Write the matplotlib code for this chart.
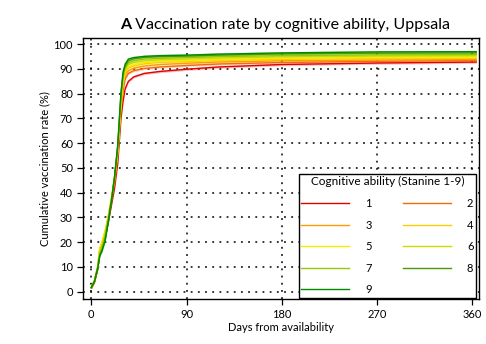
import matplotlib
matplotlib.use("Agg")
import matplotlib.pyplot as plt
from matplotlib.lines import Line2D
import numpy as np

plt.rcParams['font.family'] = ['Lato', 'DejaVu Sans']

days = [0, 3, 6, 8, 10, 13, 16, 19, 22, 25, 28, 30, 32, 35, 40, 50, 65, 90, 120, 180, 270, 364]

s1 = [1.5, 4.0, 9.0, 15.5, 17.5, 22.0, 28.0, 35.0, 42.0, 52.0, 70.0, 77.0, 82.0, 85.0, 86.8, 88.2, 89.0, 89.9, 90.8, 91.8, 92.4, 92.8]
s2 = [1.6, 4.2, 9.5, 16.5, 18.5, 23.0, 29.0, 36.5, 44.0, 55.0, 73.0, 81.0, 86.0, 88.2, 89.3, 90.2, 90.8, 91.4, 92.0, 92.6, 93.1, 93.4]
s3 = [1.7, 4.3, 10.0, 17.5, 19.5, 24.0, 30.0, 37.5, 45.0, 56.0, 74.5, 83.0, 87.5, 89.3, 90.3, 91.2, 91.8, 92.3, 92.8, 93.3, 93.6, 93.8]
s4 = [1.7, 4.4, 10.0, 17.8, 20.0, 24.5, 30.5, 38.0, 46.0, 57.0, 75.5, 84.5, 88.5, 90.3, 91.2, 92.1, 92.7, 93.0, 93.4, 93.9, 94.2, 94.3]
s5 = [1.8, 4.5, 10.2, 17.5, 19.8, 24.5, 30.5, 38.0, 46.5, 57.5, 76.5, 85.0, 89.0, 91.0, 91.8, 92.6, 93.1, 93.4, 93.8, 94.3, 94.6, 94.7]
s6 = [1.8, 4.5, 10.0, 16.5, 18.8, 23.5, 30.0, 37.5, 46.5, 58.0, 77.5, 86.0, 89.8, 91.8, 92.6, 93.3, 93.7, 94.0, 94.4, 94.9, 95.2, 95.3]
s7 = [1.8, 4.4, 9.8, 15.5, 17.8, 22.5, 29.5, 37.0, 46.5, 58.5, 78.5, 87.0, 90.5, 92.5, 93.3, 94.0, 94.3, 94.6, 95.0, 95.4, 95.7, 95.8]
s8 = [1.7, 4.3, 9.5, 14.8, 16.8, 21.0, 28.5, 36.5, 46.5, 59.0, 79.5, 88.0, 91.3, 93.3, 94.1, 94.7, 95.0, 95.2, 95.6, 96.1, 96.4, 96.5]
s9 = [1.7, 4.2, 9.3, 14.5, 16.3, 20.5, 28.0, 36.5, 46.5, 59.5, 80.5, 88.8, 92.0, 94.0, 94.6, 95.1, 95.4, 95.6, 96.0, 96.5, 96.9, 97.0]

series = [s1, s2, s3, s4, s5, s6, s7, s8, s9]
labels = ['1', '2', '3', '4', '5', '6', '7', '8', '9']
colors = ['#e30000', '#f06a10', '#ff9a00', '#ffcc00', '#f5ec00', '#c8dc00', '#96c800', '#4a9a00', '#008a00']

fig = plt.figure(figsize=(4.86, 3.44), dpi=100)
ax = fig.add_axes([0.1714, 0.1308, 0.8142, 0.7579])

x = np.array(days, dtype=float)
handles = []
for vals, lab, col in zip(series, labels, colors):
    y = np.array(vals)
    ax.fill_between(x, y - 0.5, y + 0.5, color=col, alpha=0.25, linewidth=0)
    ax.plot(x, y, color=col, linewidth=1.0)
    handles.append(Line2D([], [], color=col, linewidth=1.0, label=lab))

ax.set_xlim(-7.6, 366.6)
ax.set_ylim(-2.95, 102.4)
ax.set_xticks([0, 90, 180, 270, 360])
ax.set_yticks(range(0, 101, 10))
ax.grid(True, color='black', linestyle=(0, (1.2, 3.5)), linewidth=1.1)
ax.set_axisbelow(True)
for sp in ax.spines.values():
    sp.set_linewidth(1.0)
ax.tick_params(direction='out', length=4, width=0.9, labelsize=8)
ax.set_xlabel('Days from availability', fontsize=8, labelpad=1)
ax.set_ylabel('Cumulative vaccination rate (%)', fontsize=8, labelpad=2)

order = [0, 2, 4, 6, 8, 1, 3, 5, 7]
leg = ax.legend([handles[i] for i in order], [labels[i] for i in order],
                ncol=2, title='Cognitive ability (Stanine 1-9)', title_fontsize=8.5,
                fontsize=8, loc='lower right', bbox_to_anchor=(0.993, 0.004),
                borderaxespad=0, fancybox=False, edgecolor='black', framealpha=1,
                handlelength=4.3, handletextpad=1.45, columnspacing=2.8,
                labelspacing=0.95, borderpad=0.25)
leg.get_frame().set_linewidth(1.0)

t1 = fig.text(0.247, 0.908, 'A', fontsize=11.5, fontweight='bold', ha='left', va='bottom')
ax.annotate(' Vaccination rate by cognitive ability, Uppsala', xy=(1, 0), xycoords=t1,
            fontsize=11.5, ha='left', va='bottom')

fig.savefig('out.png', dpi=100)
